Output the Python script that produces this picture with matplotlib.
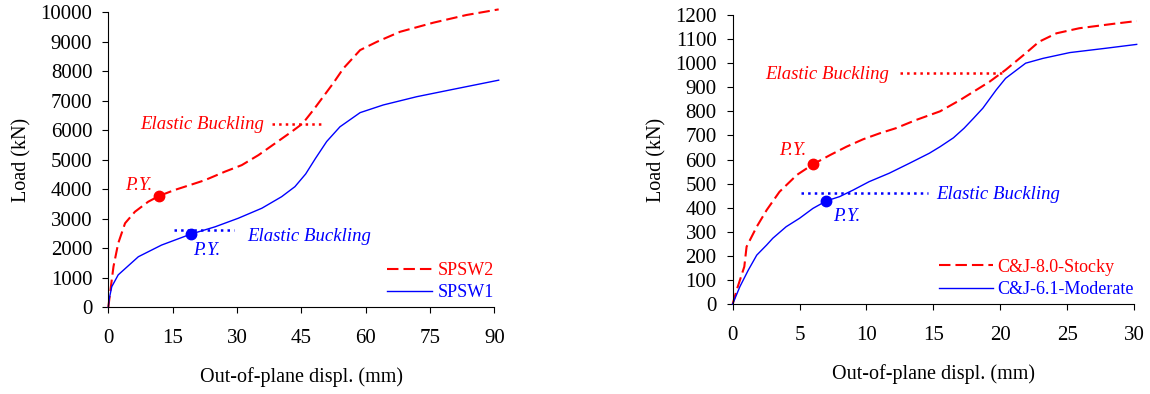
import matplotlib
matplotlib.use("Agg")
import matplotlib.pyplot as plt

# ---------------- DATA ----------------

# left panel (SPSW tests), displacement in mm, load in kN
spsw2_x = [0, 0.4, 1.2, 2.3, 3.9, 6.2, 9.3, 11.9, 15.5, 20.2, 22.5, 27.2, 31.1, 35.0,
           38.9, 42.7, 45.3, 47.8, 50.1, 52.4, 54.8, 58.7, 62.6, 68.0, 75.8, 83.5, 91.0]
spsw2_y = [0, 475, 1380, 2170, 2850, 3240, 3580, 3780, 3980, 4200, 4310, 4600, 4820, 5160,
           5560, 5950, 6230, 6690, 7140, 7590, 8100, 8720, 9000, 9340, 9650, 9910, 10100]

spsw1_x = [0, 0.16, 0.8, 2.3, 7.0, 12.4, 19.2, 24.9, 30.3, 35.8, 40.4, 43.5, 46.0, 48.3,
           50.9, 54.0, 58.7, 64.1, 71.9, 79.7, 91.0]
spsw1_y = [0, 250, 700, 1100, 1715, 2110, 2480, 2730, 3020, 3360, 3750, 4090, 4520, 5050,
           5620, 6120, 6600, 6860, 7140, 7370, 7700]

spsw2_py = (11.9, 3780)
spsw1_py = (19.2, 2480)
spsw2_eb = ([38.1, 50.1], 6200)
spsw1_eb = ([15.2, 29.4], 2620)

# right panel (C&J tests)
stocky_x = [0, 0.3, 0.87, 1.04, 1.8, 2.54, 3.5, 4.8, 6.0, 7.3, 8.5, 9.75, 11.0, 12.2,
            13.7, 15.5, 17.0, 19.2, 20.4, 21.9, 22.9, 24.2, 25.9, 28.4, 30.2]
stocky_y = [0, 58, 155, 238, 321, 390, 466, 536, 580, 619, 653, 684, 709, 730,
            764, 800, 847, 923, 972, 1041, 1089, 1124, 1145, 1163, 1175]

moderate_x = [0, 0.54, 1.17, 1.8, 2.54, 3.0, 4.0, 5.0, 6.0, 7.0, 8.0, 9.0, 10.2, 11.7,
              13.2, 14.7, 15.5, 16.5, 17.3, 18.0, 18.7, 19.7, 20.4, 21.9, 23.2, 25.2,
              27.9, 30.2]
moderate_y = [0, 72, 141, 203, 245, 273, 321, 356, 397, 428, 446, 473, 508, 543,
              584, 626, 653, 690, 730, 771, 813, 889, 937, 1000, 1020, 1044,
              1062, 1078]

stocky_py = (6.0, 580)
moderate_py = (7.0, 428)
stocky_eb = ([12.5, 20.3], 958)
moderate_eb = ([5.1, 14.6], 462)

# ---------------- STYLE ----------------

plt.rcParams["font.family"] = ["Liberation Serif", "DejaVu Serif"]
plt.rcParams["font.size"] = 13

RED = "#ff0000"
BLUE = "#0000ff"
DASH = (0, (5.5, 2.4))


def style_axes(ax, xticks, yticks, xlim, ylim):
    for s in ("top", "right"):
        ax.spines[s].set_visible(False)
    ax.set_xlim(*xlim)
    ax.set_ylim(*ylim)
    ax.set_xticks(xticks)
    ax.set_yticks(yticks)
    ax.tick_params(axis="x", direction="out", length=4, width=0.8, pad=11.5, labelsize=15)
    ax.tick_params(axis="y", direction="out", length=4, width=0.8, pad=7.5, labelsize=15)
    ax.set_xlabel("Out-of-plane displ. (mm)", fontsize=14.5, labelpad=14)
    ax.set_ylabel("Load (kN)", fontsize=14.5, labelpad=6.5)


fig = plt.figure(figsize=(11.5, 3.94), dpi=100)

# ---- left panel ----
ax1 = fig.add_axes([0.0942, 0.2200, 0.3357, 0.7487])
ax1.plot(spsw2_x, spsw2_y, color=RED, lw=1.5, linestyle=DASH, label="SPSW2", clip_on=False)
ax1.plot(spsw1_x, spsw1_y, color=BLUE, lw=1.0, label="SPSW1", clip_on=False)
ax1.plot(*spsw2_py, "o", color=RED, ms=7.5)
ax1.plot(*spsw1_py, "o", color=BLUE, ms=7.5)
ax1.plot(spsw2_eb[0], [spsw2_eb[1]] * 2, ":", color=RED, lw=1.8)
ax1.plot(spsw1_eb[0], [spsw1_eb[1]] * 2, ":", color=BLUE, lw=1.8)
ax1.text(36.4, 6040, "Elastic Buckling", color=RED, style="italic", ha="right", va="baseline",
         fontsize=13.5)
ax1.text(32.3, 2260, "Elastic Buckling", color=BLUE, style="italic", ha="left", va="baseline",
         fontsize=13.5)
ax1.text(3.9, 3980, "P.Y.", color=RED, style="italic", ha="left", va="baseline", fontsize=13.5)
ax1.text(19.8, 1760, "P.Y.", color=BLUE, style="italic", ha="left", va="baseline", fontsize=13.5)
style_axes(ax1, range(0, 91, 15), range(0, 10001, 1000), (0, 90), (0, 10000))
ax1.legend(loc="lower right", bbox_to_anchor=(1.0, 0.02), frameon=False, fontsize=13,
           handlelength=2.5, handletextpad=0.35, labelspacing=0.3, borderpad=0,
           borderaxespad=0, labelcolor="linecolor")

# ---- right panel ----
ax2 = fig.add_axes([0.6371, 0.2284, 0.3490, 0.7335])
ax2.plot(stocky_x, stocky_y, color=RED, lw=1.5, linestyle=DASH, label="C&J-8.0-Stocky", clip_on=False)
ax2.plot(moderate_x, moderate_y, color=BLUE, lw=1.0, label="C&J-6.1-Moderate", clip_on=False)
ax2.plot(*stocky_py, "o", color=RED, ms=7.5)
ax2.plot(*moderate_py, "o", color=BLUE, ms=7.5)
ax2.plot(stocky_eb[0], [stocky_eb[1]] * 2, ":", color=RED, lw=1.8)
ax2.plot(moderate_eb[0], [moderate_eb[1]] * 2, ":", color=BLUE, lw=1.8)
ax2.text(11.7, 933, "Elastic Buckling", color=RED, style="italic", ha="right", va="baseline",
         fontsize=13.5)
ax2.text(15.2, 435, "Elastic Buckling", color=BLUE, style="italic", ha="left", va="baseline",
         fontsize=13.5)
ax2.text(3.5, 619, "P.Y.", color=RED, style="italic", ha="left", va="baseline", fontsize=13.5)
ax2.text(7.5, 346, "P.Y.", color=BLUE, style="italic", ha="left", va="baseline", fontsize=13.5)
style_axes(ax2, range(0, 31, 5), range(0, 1201, 100), (0, 30), (0, 1200))
ax2.legend(loc="lower right", bbox_to_anchor=(1.0, 0.02), frameon=False, fontsize=13,
           handlelength=3.0, handletextpad=0.25, labelspacing=0.3, borderpad=0,
           borderaxespad=0, labelcolor="linecolor")

fig.savefig("out.png", dpi=100)
